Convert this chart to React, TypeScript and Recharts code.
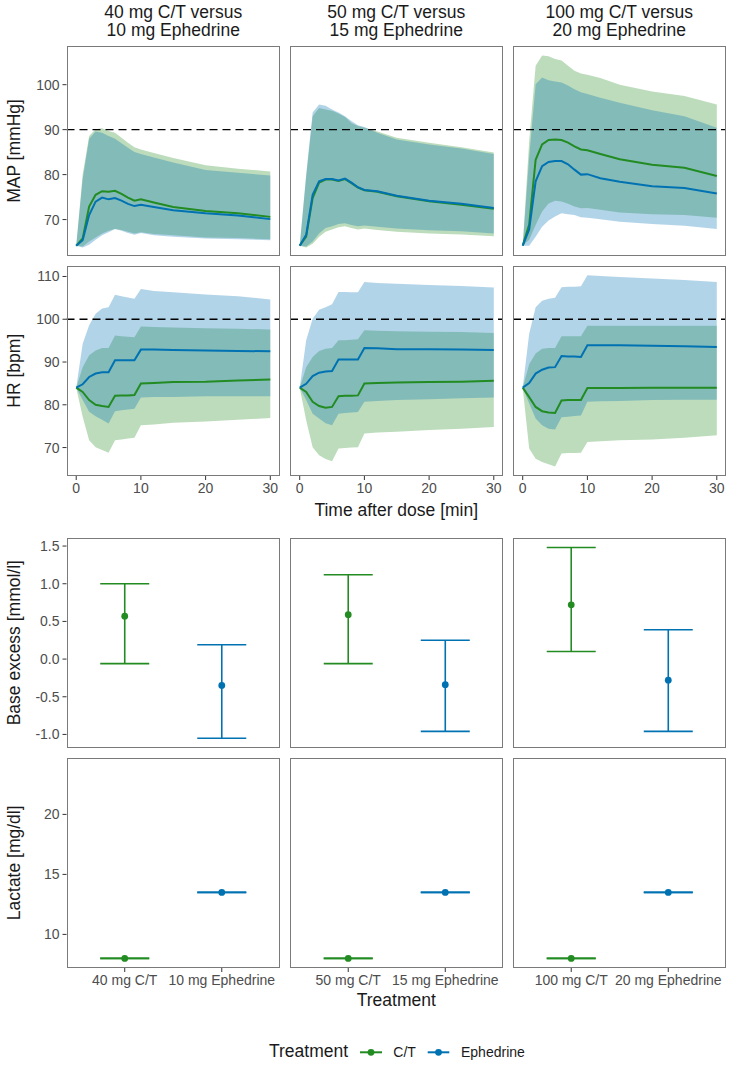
import {
  ComposedChart,
  ScatterChart,
  Scatter,
  ErrorBar,
  Area,
  Line,
  XAxis,
  YAxis,
  ReferenceLine,
} from "recharts";

// time grid (minutes after dose)
const times = [0, 1, 2, 3, 4, 5, 6, 7, 8, 9, 10, 12, 15, 20, 25, 30];

// MAP [mmHg] – 40 mg C/T vs 10 mg Ephedrine
const mapCt40 = [64.2, 65.8, 72.9, 75.5, 76.3, 76.2, 76.4, 75.7, 74.9, 74.2, 74.5, 73.8, 72.8, 71.9, 71.4, 70.6];
const mapCt40Lo = [64.2, 64.0, 65.1, 66.0, 66.9, 67.5, 67.9, 67.7, 67.3, 66.9, 67.2, 66.8, 66.5, 66.0, 65.9, 65.6];
const mapCt40Hi = [64.2, 80.0, 88.6, 90.1, 90.3, 89.7, 89.3, 88.2, 87.1, 86.1, 85.6, 84.8, 83.7, 82.1, 81.3, 80.7];
const mapEph10 = [64.2, 65.4, 71.0, 74.0, 74.9, 74.5, 74.8, 74.2, 73.5, 73.0, 73.3, 72.8, 72.1, 71.4, 70.9, 70.1];
const mapEph10Lo = [64.2, 63.8, 64.4, 65.5, 66.5, 67.2, 67.9, 67.5, 67.0, 66.6, 67.0, 66.5, 66.2, 65.8, 65.6, 65.4];
const mapEph10Hi = [64.2, 79.0, 88.0, 89.6, 89.3, 88.6, 88.0, 87.0, 86.0, 85.0, 84.6, 83.8, 82.7, 81.0, 80.4, 79.8];

// MAP – 50 mg C/T vs 15 mg Ephedrine
const mapCt50 = [64.2, 66.2, 74.8, 78.2, 78.9, 78.9, 78.6, 79.0, 78.1, 77.1, 76.5, 76.2, 75.2, 74.1, 73.3, 72.4];
const mapCt50Lo = [64.2, 63.8, 64.6, 66.2, 67.3, 67.8, 68.3, 68.5, 68.1, 67.8, 68.0, 67.7, 67.3, 66.9, 66.7, 66.3];
const mapCt50Hi = [64.2, 79.5, 93.0, 94.8, 94.5, 94.2, 93.6, 92.8, 91.5, 90.8, 90.4, 89.6, 88.2, 87.1, 86.1, 84.9];
const mapEph15 = [64.2, 66.6, 75.5, 78.5, 79.0, 79.0, 78.7, 79.1, 78.2, 77.2, 76.6, 76.3, 75.3, 74.2, 73.5, 72.6];
const mapEph15Lo = [64.2, 64.0, 65.1, 66.9, 68.1, 68.5, 69.0, 69.2, 68.8, 68.5, 68.7, 68.4, 68.0, 67.6, 67.4, 66.9];
const mapEph15Hi = [64.2, 80.0, 93.8, 95.6, 95.3, 94.5, 93.8, 93.0, 91.9, 91.0, 90.6, 89.3, 87.8, 86.7, 85.8, 84.6];

// MAP – 100 mg C/T vs 20 mg Ephedrine
const mapCt100 = [64.2, 68.9, 83.3, 86.7, 87.7, 87.8, 87.7, 87.1, 86.3, 85.6, 85.4, 84.6, 83.4, 82.2, 81.5, 79.7];
const mapCt100Lo = [64.2, 65.5, 68.8, 71.8, 73.6, 74.2, 74.0, 73.5, 72.9, 72.5, 72.6, 72.2, 71.6, 71.2, 71.0, 70.4];
const mapCt100Hi = [64.2, 87.4, 104.2, 106.5, 106.3, 105.7, 105.4, 104.2, 103.1, 102.5, 102.2, 101.5, 100.0, 98.5, 97.5, 95.6];
const mapEph20 = [64.2, 67.8, 78.5, 81.9, 82.8, 83.0, 83.0, 82.3, 81.1, 80.0, 80.1, 79.2, 78.4, 77.4, 77.0, 75.8];
const mapEph20Lo = [64.2, 64.2, 66.2, 68.4, 69.8, 70.7, 71.4, 71.2, 71.0, 70.5, 70.4, 70.1, 69.5, 69.0, 68.6, 67.9];
const mapEph20Hi = [64.2, 83.9, 100.1, 101.6, 101.0, 100.7, 100.5, 99.8, 99.0, 98.3, 97.9, 97.1, 96.0, 94.3, 93.0, 90.4];

// HR [bpm] – 40 mg C/T vs 10 mg Ephedrine
const hrCt40 = [84.0, 83.0, 81.1, 80.0, 79.7, 79.5, 82.1, 82.2, 82.2, 82.3, 85.0, 85.1, 85.3, 85.4, 85.7, 85.9];
const hrCt40Lo = [84.0, 77.2, 71.7, 70.1, 69.4, 68.8, 71.7, 71.9, 72.1, 72.3, 75.2, 75.4, 75.8, 76.1, 76.5, 76.9];
const hrCt40Hi = [84.0, 88.8, 91.6, 92.7, 93.3, 93.3, 96.2, 96.0, 95.9, 95.8, 98.3, 98.2, 98.1, 97.9, 97.8, 97.6];
const hrEph10 = [84.0, 84.8, 86.5, 87.3, 87.6, 87.6, 90.4, 90.4, 90.4, 90.4, 92.9, 92.9, 92.8, 92.7, 92.6, 92.5];
const hrEph10Lo = [84.0, 81.1, 78.4, 77.3, 76.5, 75.6, 78.5, 78.7, 78.9, 79.1, 81.7, 81.8, 81.8, 82.0, 82.0, 82.0];
const hrEph10Hi = [84.0, 94.3, 98.6, 101.3, 102.5, 102.8, 105.7, 105.4, 105.1, 104.8, 107.1, 106.6, 106.3, 105.8, 105.4, 104.6];

// HR – 50 mg C/T vs 15 mg Ephedrine
const hrCt50 = [84.0, 83.0, 80.7, 79.7, 79.3, 79.5, 82.0, 82.1, 82.1, 82.2, 85.0, 85.1, 85.2, 85.3, 85.4, 85.6];
const hrCt50Lo = [84.0, 76.4, 70.1, 68.2, 67.3, 66.8, 69.8, 69.9, 70.0, 70.1, 73.3, 73.5, 73.7, 74.1, 74.4, 74.8];
const hrCt50Hi = [84.0, 88.8, 91.2, 92.6, 93.1, 93.3, 95.1, 95.1, 95.2, 95.3, 97.4, 97.3, 97.2, 97.1, 97.0, 96.8];
const hrEph15 = [84.0, 84.9, 86.7, 87.5, 87.8, 87.9, 90.6, 90.6, 90.6, 90.6, 93.3, 93.2, 93.0, 93.0, 92.9, 92.8];
const hrEph15Lo = [84.0, 81.1, 77.9, 76.8, 75.7, 75.2, 77.9, 78.1, 78.2, 78.3, 80.7, 80.9, 81.1, 81.3, 81.5, 81.7];
const hrEph15Hi = [84.0, 95.1, 100.1, 102.2, 102.8, 103.5, 106.4, 106.4, 106.3, 106.3, 108.7, 108.5, 108.3, 108.0, 107.8, 107.4];

// HR – 100 mg C/T vs 20 mg Ephedrine
const hrCt100 = [84.0, 81.8, 79.5, 78.5, 78.2, 78.1, 81.0, 81.1, 81.1, 81.1, 83.9, 83.9, 83.9, 84.0, 84.0, 84.0];
const hrCt100Lo = [84.0, 69.8, 67.4, 66.6, 66.1, 65.6, 68.6, 68.7, 68.7, 68.8, 71.3, 71.5, 71.7, 71.9, 72.3, 72.9];
const hrCt100Hi = [84.0, 89.5, 92.0, 93.1, 93.3, 93.3, 96.0, 96.0, 96.0, 96.0, 98.5, 98.5, 98.5, 98.5, 98.5, 98.5];
const hrEph20 = [84.0, 85.1, 87.3, 88.2, 88.7, 88.8, 91.4, 91.3, 91.3, 91.2, 93.9, 93.9, 93.9, 93.8, 93.7, 93.5];
const hrEph20Lo = [84.0, 80.3, 76.8, 75.2, 74.4, 74.2, 77.1, 77.2, 77.4, 77.5, 80.7, 80.8, 80.9, 81.1, 81.2, 81.2];
const hrEph20Hi = [84.0, 96.6, 102.8, 104.3, 104.8, 105.0, 107.5, 107.6, 107.6, 107.7, 110.3, 110.1, 109.9, 109.5, 109.2, 108.7];

// comparisons (columns)
const titles = [
  ["40 mg C/T versus", "10 mg Ephedrine"],
  ["50 mg C/T versus", "15 mg Ephedrine"],
  ["100 mg C/T versus", "20 mg Ephedrine"],
];
const treatmentLabels = [
  ["40 mg C/T", "10 mg Ephedrine"],
  ["50 mg C/T", "15 mg Ephedrine"],
  ["100 mg C/T", "20 mg Ephedrine"],
];

// base excess [mmol/l]: mean, lower, upper per column
const beCtMean = [0.57, 0.59, 0.72];
const beCtLo = [-0.06, -0.06, 0.1];
const beCtHi = [1.0, 1.12, 1.48];
const beEphMean = [-0.35, -0.34, -0.28];
const beEphLo = [-1.05, -0.96, -0.96];
const beEphHi = [0.19, 0.25, 0.39];

// lactate [mg/dl]
const lacCt = [8.0, 8.0, 8.0];
const lacEph = [13.5, 13.5, 13.5];

const GREEN = "#228B22";
const BLUE = "#0072B2";
const FONT = "'Liberation Sans', Arial, sans-serif";
const TICK_COL = "#4d4d4d";

const COL_X = [66.5, 289.5, 512.5];
const PANEL_W = 213.5;
const ROW_Y = [46, 265.7, 537.7, 757.8];
const PANEL_H = 210;
const X_AXIS_H = 30;

const tickStyle = { fill: TICK_COL, fontSize: 14, fontFamily: FONT };

function makeRows(ct: number[], ctLo: number[], ctHi: number[], eph: number[], ephLo: number[], ephHi: number[]) {
  return times.map((t, i) => ({
    t,
    ct: ct[i],
    eph: eph[i],
    ctBand: [ctLo[i], ctHi[i]],
    ephBand: [ephLo[i], ephHi[i]],
  }));
}

const mapRows = [
  makeRows(mapCt40, mapCt40Lo, mapCt40Hi, mapEph10, mapEph10Lo, mapEph10Hi),
  makeRows(mapCt50, mapCt50Lo, mapCt50Hi, mapEph15, mapEph15Lo, mapEph15Hi),
  makeRows(mapCt100, mapCt100Lo, mapCt100Hi, mapEph20, mapEph20Lo, mapEph20Hi),
];
const hrRows = [
  makeRows(hrCt40, hrCt40Lo, hrCt40Hi, hrEph10, hrEph10Lo, hrEph10Hi),
  makeRows(hrCt50, hrCt50Lo, hrCt50Hi, hrEph15, hrEph15Lo, hrEph15Hi),
  makeRows(hrCt100, hrCt100Lo, hrCt100Hi, hrEph20, hrEph20Lo, hrEph20Hi),
];

function Frame({ col, row }: { col: number; row: number }) {
  return (
    <div
      style={{
        position: "absolute",
        left: COL_X[col],
        top: ROW_Y[row],
        width: PANEL_W,
        height: PANEL_H,
        border: "1px solid #7a7a7a",
        boxSizing: "border-box",
        pointerEvents: "none",
      }}
    />
  );
}

function TimePanel({ col, row, data, yDomain, yTicks, refY, showX }: any) {
  const showY = col === 0;
  const left = showY ? 0 : COL_X[col];
  const w = showY ? COL_X[0] + PANEL_W : PANEL_W;
  const h = PANEL_H + (showX ? X_AXIS_H : 0);
  return (
    <div style={{ position: "absolute", left, top: ROW_Y[row], width: w, height: h }}>
      <ComposedChart width={w} height={h} data={data} margin={{ top: 0, right: 0, bottom: 0, left: 0 }}>
        <XAxis
          dataKey="t"
          type="number"
          domain={[-1.5, 31.5]}
          ticks={[0, 10, 20, 30]}
          allowDataOverflow
          hide={!showX}
          height={X_AXIS_H}
          axisLine={false}
          tickLine={{ stroke: "#333" }}
          tickSize={4}
          tickMargin={3}
          tick={tickStyle}
          interval={0}
        />
        <YAxis
          type="number"
          domain={yDomain}
          ticks={yTicks}
          allowDataOverflow
          hide={!showY}
          width={COL_X[0]}
          axisLine={false}
          tickLine={{ stroke: "#333" }}
          tickSize={4}
          tickMargin={3}
          tick={tickStyle}
          interval={0}
        />
        <Area type="linear" dataKey="ctBand" stroke="none" fill={GREEN} fillOpacity={0.3} isAnimationActive={false} />
        <Area type="linear" dataKey="ephBand" stroke="none" fill={BLUE} fillOpacity={0.3} isAnimationActive={false} />
        <ReferenceLine y={refY} stroke="#000" strokeWidth={1.4} strokeDasharray="8 5" />
        <Line type="linear" dataKey="ct" stroke={GREEN} strokeWidth={2} dot={false} activeDot={false} isAnimationActive={false} />
        <Line type="linear" dataKey="eph" stroke={BLUE} strokeWidth={2} dot={false} activeDot={false} isAnimationActive={false} />
      </ComposedChart>
    </div>
  );
}

const dotShape = (color: string) => (p: any) => <circle cx={p.cx} cy={p.cy} r={3.4} fill={color} />;

function PointPanel({ col, row, ct, eph, yDomain, yTicks, yFormat, showX }: any) {
  const showY = col === 0;
  const left = showY ? 0 : COL_X[col];
  const w = showY ? COL_X[0] + PANEL_W : PANEL_W;
  const h = PANEL_H + (showX ? X_AXIS_H : 0);
  const labels = treatmentLabels[col];
  const ctData = [{ x: 1, y: ct[0], err: [ct[0] - ct[1], ct[2] - ct[0]] }];
  const ephData = [{ x: 2, y: eph[0], err: [eph[0] - eph[1], eph[2] - eph[0]] }];
  return (
    <div style={{ position: "absolute", left, top: ROW_Y[row], width: w, height: h }}>
      <ScatterChart width={w} height={h} margin={{ top: 0, right: 0, bottom: 0, left: 0 }}>
        <XAxis
          dataKey="x"
          type="number"
          domain={[0.4, 2.6]}
          ticks={[1, 2]}
          tickFormatter={(v: number) => labels[v - 1]}
          allowDataOverflow
          hide={!showX}
          height={X_AXIS_H}
          axisLine={false}
          tickLine={{ stroke: "#333" }}
          tickSize={4}
          tickMargin={3}
          tick={tickStyle}
          interval={0}
        />
        <YAxis
          dataKey="y"
          type="number"
          domain={yDomain}
          ticks={yTicks}
          tickFormatter={yFormat}
          allowDataOverflow
          hide={!showY}
          width={COL_X[0]}
          axisLine={false}
          tickLine={{ stroke: "#333" }}
          tickSize={4}
          tickMargin={3}
          tick={tickStyle}
          interval={0}
        />
        <Scatter data={ctData} fill={GREEN} shape={dotShape(GREEN)} isAnimationActive={false}>
          <ErrorBar dataKey="err" direction="y" width={24.5} stroke={GREEN} strokeWidth={1.6} isAnimationActive={false} />
        </Scatter>
        <Scatter data={ephData} fill={BLUE} shape={dotShape(BLUE)} isAnimationActive={false}>
          <ErrorBar dataKey="err" direction="y" width={24.5} stroke={BLUE} strokeWidth={1.6} isAnimationActive={false} />
        </Scatter>
      </ScatterChart>
    </div>
  );
}

export default function App() {
  const cols = [0, 1, 2];
  const centers = cols.map((c) => COL_X[c] + PANEL_W / 2);
  const midX = (COL_X[0] + COL_X[2] + PANEL_W) / 2;
  return (
    <div style={{ position: "absolute", left: 0, top: 0, width: 734, height: 1065, background: "#fff", fontFamily: FONT }}>
      {cols.map((c) => (
        <TimePanel key={"map" + c} col={c} row={0} data={mapRows[c]} yDomain={[61.9, 108.6]} yTicks={[70, 80, 90, 100]} refY={90} showX={false} />
      ))}
      {cols.map((c) => (
        <TimePanel key={"hr" + c} col={c} row={1} data={hrRows[c]} yDomain={[63.35, 112.45]} yTicks={[70, 80, 90, 100, 110]} refY={100} showX />
      ))}
      {cols.map((c) => (
        <PointPanel
          key={"be" + c}
          col={c}
          row={2}
          ct={[beCtMean[c], beCtLo[c], beCtHi[c]]}
          eph={[beEphMean[c], beEphLo[c], beEphHi[c]]}
          yDomain={[-1.18, 1.607]}
          yTicks={[-1, -0.5, 0, 0.5, 1, 1.5]}
          yFormat={(v: number) => v.toFixed(1)}
          showX={false}
        />
      ))}
      {cols.map((c) => (
        <PointPanel
          key={"lac" + c}
          col={c}
          row={3}
          ct={[lacCt[c], lacCt[c], lacCt[c]]}
          eph={[lacEph[c], lacEph[c], lacEph[c]]}
          yDomain={[7.2, 24.7]}
          yTicks={[10, 15, 20]}
          yFormat={(v: number) => String(v)}
          showX
        />
      ))}
      {[0, 1, 2, 3].map((r) => cols.map((c) => <Frame key={`f${r}${c}`} col={c} row={r} />))}
      <svg width={734} height={1065} style={{ position: "absolute", left: 0, top: 0, pointerEvents: "none" }} fontFamily={FONT}>
        {cols.map((c) => (
          <g key={"t" + c} fill="#1a1a1a" fontSize={17.5} textAnchor="middle">
            <text x={centers[c]} y={18.3}>{titles[c][0]}</text>
            <text x={centers[c]} y={36.3}>{titles[c][1]}</text>
          </g>
        ))}
        <g fill="#1a1a1a" fontSize={17.5} textAnchor="middle">
          <text transform={`translate(20,${ROW_Y[0] + PANEL_H / 2}) rotate(-90)`}>MAP [mmHg]</text>
          <text transform={`translate(20,${ROW_Y[1] + PANEL_H / 2}) rotate(-90)`}>HR [bpm]</text>
          <text transform={`translate(20,${ROW_Y[2] + PANEL_H / 2}) rotate(-90)`}>Base excess [mmol/l]</text>
          <text transform={`translate(20,${ROW_Y[3] + PANEL_H / 2}) rotate(-90)`}>Lactate [mg/dl]</text>
          <text x={midX} y={516}>Time after dose [min]</text>
          <text x={midX} y={1006}>Treatment</text>
        </g>
        <g>
          <text x={269} y={1057} fontSize={17.5} fill="#1a1a1a">Treatment</text>
          <line x1={360} x2={382} y1={1052.3} y2={1052.3} stroke={GREEN} strokeWidth={2} />
          <circle cx={371} cy={1052.3} r={3.4} fill={GREEN} />
          <text x={393.3} y={1057} fontSize={14} fill="#1a1a1a">C/T</text>
          <line x1={427.7} x2={449.3} y1={1052.3} y2={1052.3} stroke={BLUE} strokeWidth={2} />
          <circle cx={438.5} cy={1052.3} r={3.4} fill={BLUE} />
          <text x={461} y={1057} fontSize={14} fill="#1a1a1a">Ephedrine</text>
        </g>
      </svg>
    </div>
  );
}
